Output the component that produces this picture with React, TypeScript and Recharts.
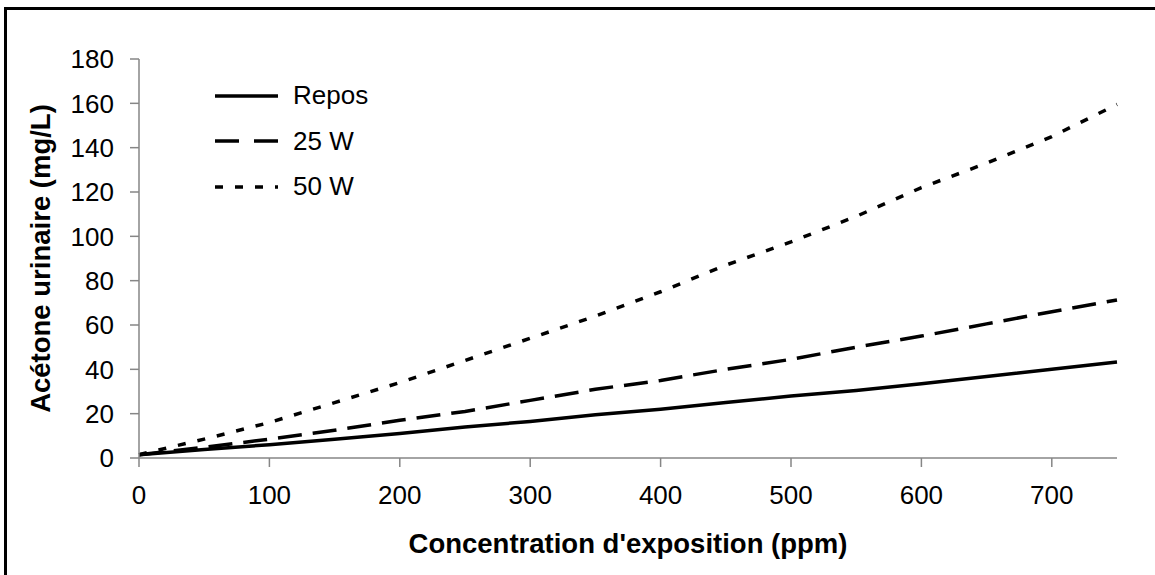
import React from 'react';
import { LineChart, Line, XAxis, YAxis, Label } from 'recharts';

const concentrations = [0, 50, 100, 150, 200, 250, 300, 350, 400, 450, 500, 550, 600, 650, 700, 750];
const repos = [1.5, 3.8, 6, 8.5, 11, 14, 16.5, 19.5, 22, 25, 28, 30.5, 33.5, 36.8, 40, 43.3];
const w25 = [1.5, 4.8, 8.5, 12.5, 17, 21, 26, 31, 35, 40, 44.5, 50, 55, 60.5, 66, 71.3];
const w50 = [1.5, 8.5, 16, 25, 34, 44, 54, 64, 75, 87, 97.5, 109, 122, 133, 145, 159.5];

const xTicks = [0, 100, 200, 300, 400, 500, 600, 700];
const yTicks = [0, 20, 40, 60, 80, 100, 120, 140, 160, 180];

const series = [
  { key: 'repos', name: 'Repos', dash: undefined, legendDash: undefined },
  { key: 'w25', name: '25 W', dash: '24 11', legendDash: '24 15' },
  { key: 'w50', name: '50 W', dash: '8 12', legendDash: '8 12' },
];

const data = concentrations.map((c, i) => ({
  conc: c,
  repos: repos[i],
  w25: w25[i],
  w50: w50[i],
}));

const FONT = '"Liberation Sans", Arial, sans-serif';
const AXIS = '#868686';

// legend sits inside the plot area, top left, like the original
const ChartLegend = () => (
  <div style={{ position: 'absolute', left: 215, top: 73, fontFamily: FONT }}>
    {series.map((s) => (
      <div key={s.key} style={{ display: 'flex', alignItems: 'center', height: 45.5 }}>
        <svg width={63} height={6}>
          <line x1={0} y1={3} x2={63} y2={3} stroke="#000" strokeWidth={3.6} strokeDasharray={s.legendDash} />
        </svg>
        <span style={{ fontSize: 26, color: '#000', marginLeft: 15 }}>{s.name}</span>
      </div>
    ))}
  </div>
);

export default function App() {
  return (
    <div style={{ position: 'absolute', left: 0, top: 0, width: 1155, height: 575, overflow: 'hidden', background: '#fff' }}>
      <div style={{ position: 'absolute', left: 4, top: 7, width: 1300, height: 800, border: '3px solid #000' }} />
      <div style={{ position: 'absolute', left: 0, top: 0 }}>
        <LineChart width={1155} height={575} data={data} margin={{ top: 59, right: 38, left: 0, bottom: 0 }}>
          <XAxis
            dataKey="conc"
            type="number"
            domain={[0, 750]}
            ticks={xTicks}
            interval={0}
            height={117}
            stroke={AXIS}
            strokeWidth={1.5}
            tickSize={9}
            tickMargin={19}
            tick={{ fill: '#000', fontSize: 26, fontFamily: FONT }}
          >
            <Label
              content={({ viewBox }: any) => (
                <text
                  x={viewBox.x + viewBox.width / 2}
                  y={553}
                  textAnchor="middle"
                  fontSize={27.5}
                  fontWeight="bold"
                  fontFamily={FONT}
                  fill="#000"
                >
                  Concentration d'exposition (ppm)
                </text>
              )}
            />
          </XAxis>
          <YAxis
            type="number"
            domain={[0, 180]}
            ticks={yTicks}
            interval={0}
            width={139}
            stroke={AXIS}
            strokeWidth={1.5}
            tickSize={9}
            tickMargin={16}
            tick={{ fill: '#000', fontSize: 26, fontFamily: FONT }}
          >
            <Label
              content={({ viewBox }: any) => {
                const cy = viewBox.y + viewBox.height / 2;
                return (
                  <text
                    x={50}
                    y={cy}
                    transform={`rotate(-90 50 ${cy})`}
                    textAnchor="middle"
                    fontSize={27.5}
                    fontWeight="bold"
                    fontFamily={FONT}
                    fill="#000"
                  >
                    Acétone urinaire (mg/L)
                  </text>
                );
              }}
            />
          </YAxis>
          {series.map((s) => (
            <Line
              key={s.key}
              dataKey={s.key}
              name={s.name}
              type="linear"
              stroke="#000"
              strokeWidth={3.5}
              strokeDasharray={s.dash}
              dot={false}
              activeDot={false}
              isAnimationActive={false}
            />
          ))}
        </LineChart>
      </div>
      <ChartLegend />
    </div>
  );
}
